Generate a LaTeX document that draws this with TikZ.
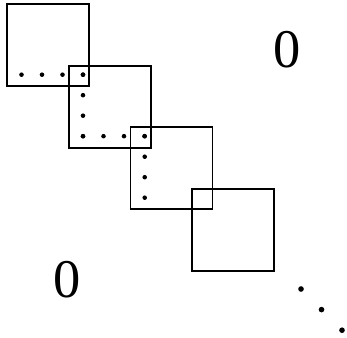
\documentclass[tikz,border=0pt]{standalone}
\usepackage{fontspec}
\setmainfont{Liberation Serif}
\usepackage{tikz}

\tikzset{
	blk/.style={draw, line width=1.1pt, minimum size=1.64cm, inner sep=0pt},
	zero/.style={font=\fontsize{31}{31}\selectfont, inner sep=0pt}
}

\begin{document}
\begin{tikzpicture}[x=0.02cm, y=-0.02cm]
	\useasboundingbox (0,0) rectangle (347,337);

	\node[blk] (blk1) at (48.3,45.2) {};
	\node[blk] (blk2) at (110.2,106.7) {};
	\node[blk] (blk3) at (171.5,168.2) {};
	\node[blk] (blk4) at (233.3,230) {};

	% dots along the blocks
	\foreach \k in {0,1,2,3} {
		\fill (83-20.5*\k,74.7) circle(1.3pt);
		\fill (83,74.7+20.5*\k) circle(1.3pt);
		\fill (83+20.5*\k,136.2) circle(1.3pt);
		\fill (144.7,136.2+20.5*\k) circle(1.3pt);
	}
	\foreach \k in {0,1,2}
		\fill (301+20.5*\k,289+20.6*\k) circle(1.6pt);

	\node[zero] (up) at (287,49.5) {0};
	\node[zero] (low) at (67,279.5) {0};
\end{tikzpicture}
\end{document}
